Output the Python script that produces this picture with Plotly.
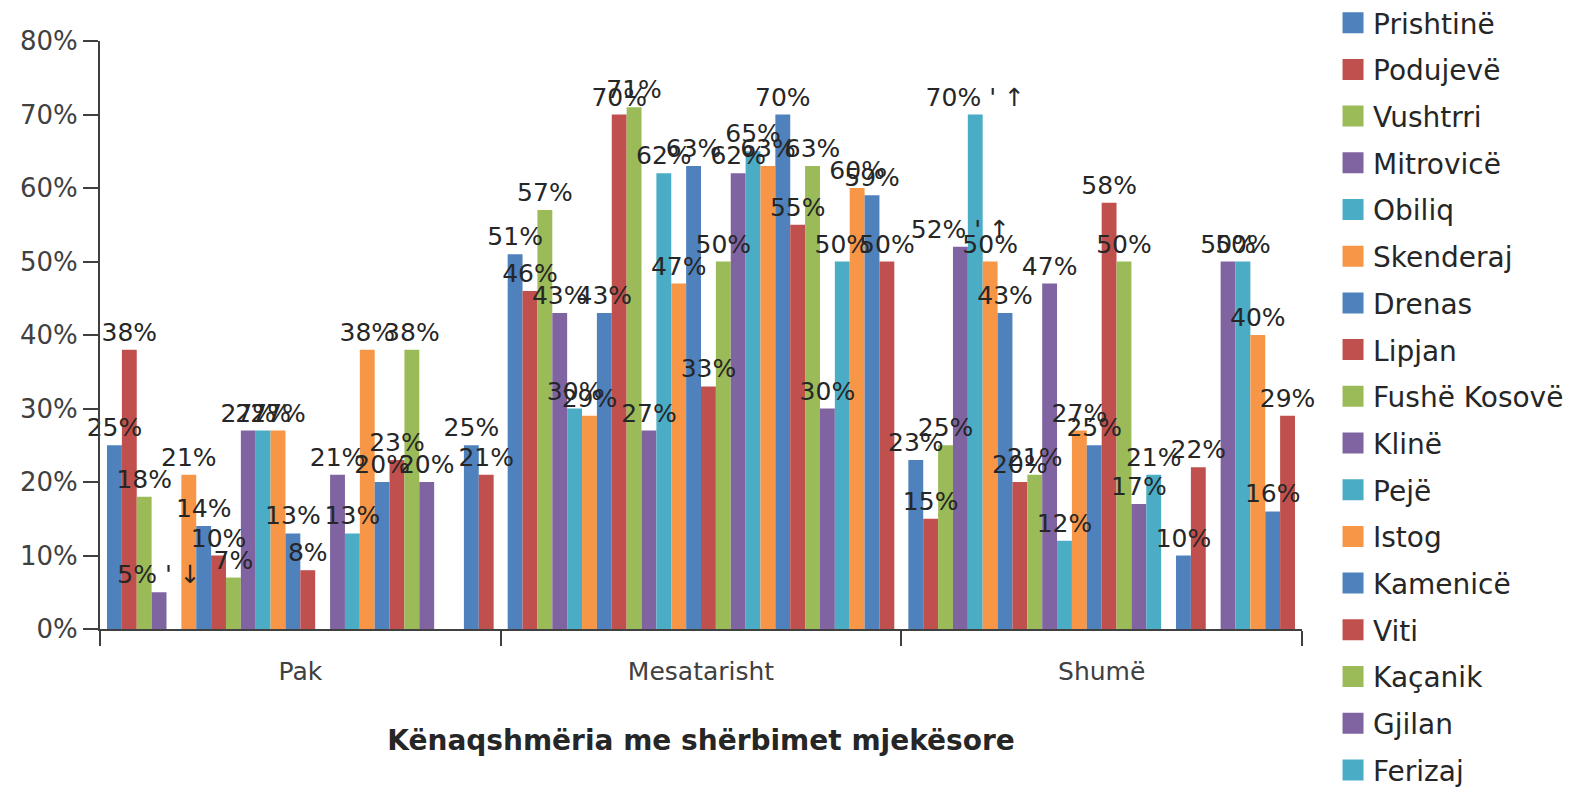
import plotly.graph_objects as go

categories = ["Pak", "Mesatarisht", "Shumë"]

series_names = [
    "Prishtinë", "Podujevë", "Vushtrri", "Mitrovicë", "Obiliq", "Skenderaj",
    "Drenas", "Lipjan", "Fushë Kosovë", "Klinë", "Pejë", "Istog",
    "Kamenicë", "Viti", "Kaçanik", "Gjilan", "Ferizaj",
    "Seria 18", "Seria 19", "Seria 20", "Seria 21", "Seria 22",
    "Seria 23", "Seria 24", "Seria 25", "Seria 26",
]
legend_count = 17  # the legend in the source is cut off after Ferizaj

# values (%) per series, order: Pak, Mesatarisht, Shumë  (None = no bar)
pak = [25, 38, 18, 5, None, 21, 14, 10, 7, 27, 27, 27, 13, 8, None, 21, 13,
       38, 20, 23, 38, 20, None, None, 25, 21]
mesatarisht = [51, 46, 57, 43, 30, 29, 43, 70, 71, 27, 62, 47, 63, 33, 50, 62, 65,
               63, 70, 55, 63, 30, 50, 60, 59, 50]
shume = [23, 15, 25, 52, 70, 50, 43, 20, 21, 47, 12, 27, 25, 58, 50, 17, 21,
         None, 10, 22, None, 50, 50, 40, 16, 29]

# extra characters that appear after some data labels in the source
label_suffix = {(3, 0): " ' ↓", (3, 2): " ' ↑", (4, 2): " ' ↑"}

palette = ["#4F81BD", "#C0504D", "#9BBB59", "#8064A2", "#4BACC6", "#F79646"]

FONT = "DejaVu Sans"

fig = go.Figure()

# visible bars
for i, name in enumerate(series_names):
    vals = [pak[i], mesatarisht[i], shume[i]]
    fig.add_trace(go.Bar(
        x=categories, y=vals, name=name, offsetgroup=str(i),
        marker=dict(color=palette[i % len(palette)], line=dict(width=0)),
        showlegend=False, hoverinfo="skip",
    ))

# data labels drawn on top of every bar (same slots, transparent bars)
for i, name in enumerate(series_names):
    vals = [pak[i], mesatarisht[i], shume[i]]
    texts = []
    for j, v in enumerate(vals):
        texts.append("" if v is None else f"{v}%" + label_suffix.get((i, j), ""))
    fig.add_trace(go.Bar(
        x=categories, y=vals, name=name, offsetgroup=str(i),
        marker=dict(color="rgba(0,0,0,0)", line=dict(width=0)),
        text=texts, textposition="outside", constraintext="none",
        cliponaxis=False,
        textfont=dict(family=FONT, size=25, color="#262626"),
        showlegend=False,
    ))

for i in range(legend_count):
    c = palette[i % len(palette)]
    fig.add_trace(go.Scatter(
        x=[None], y=[None], mode="markers", name=series_names[i],
        marker=dict(symbol="square", size=16, color=c, line=dict(color=c, width=5)),
        legendgroup=f"g{i}", showlegend=True,
    ))

legend = dict(
    xref="container", yref="paper",
    x=0.8344, xanchor="left", y=1.0731, yanchor="top",
    font=dict(family=FONT, size=28, color="#262626"),
    tracegroupgap=7.3, itemclick=False,
    bgcolor="rgba(0,0,0,0)",
)

fig.update_layout(
    width=1588, height=788,
    margin=dict(l=92, r=294, t=33, b=167, autoexpand=False),
    paper_bgcolor="white", plot_bgcolor="white",
    barmode="group", bargap=0.035, bargroupgap=0,
    font=dict(family=FONT, color="#404040"),
    xaxis=dict(
        type="category", showgrid=False, showline=True, linecolor="#404040",
        linewidth=2, ticks="outside", tickson="boundaries", ticklen=15,
        tickwidth=2, tickcolor="#404040", automargin=False,
        ticklabelstandoff=19,
        tickfont=dict(family=FONT, size=25, color="#404040"),
        title=dict(text="<b>Kënaqshmëria me shërbimet mjekësore</b>",
                   font=dict(family=FONT, size=28, color="#262626"), standoff=45),
    ),
    yaxis=dict(
        range=[0, 80], dtick=10, ticksuffix="%", showgrid=False, zeroline=False,
        showline=True, linecolor="#404040", linewidth=2, automargin=False,
        ticks="outside", ticklen=15, tickwidth=2, tickcolor="#404040",
        tickfont=dict(family=FONT, size=26, color="#404040"),
    ),
)

try:
    fig.update_layout(legend=dict(legend, maxheight=1200))
except Exception:
    fig.update_layout(legend=legend)

fig.write_html("out.html")
